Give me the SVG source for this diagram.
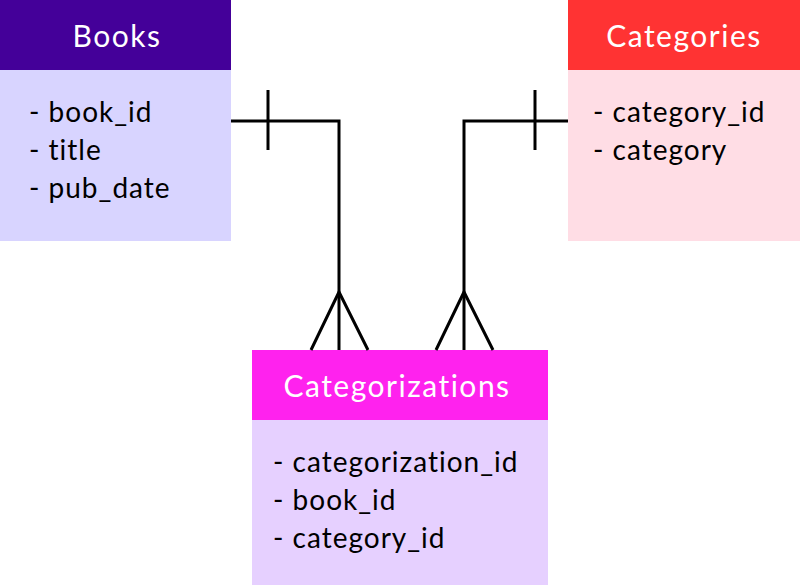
<svg xmlns="http://www.w3.org/2000/svg" width="800" height="585" viewBox="0 0 800 585">
<style>
.title{font-family:"Lato","Open Sans",sans-serif;font-size:30px;letter-spacing:1.5px;fill:#ffffff;text-anchor:middle}
.attr{font-family:"Lato","Open Sans",sans-serif;font-size:28px;letter-spacing:1px;fill:#000000}
.conn{stroke:#000000;stroke-width:3;fill:none}
</style>
<rect width="800" height="585" fill="#ffffff"/>
<g id="books">
<rect x="0" y="0" width="231" height="70" fill="#440099"/>
<rect x="0" y="70" width="231" height="171" fill="#d8d4ff"/>
<text class="title" x="117" y="47">Books</text>
<text class="attr" x="29" y="122">- book_id</text>
<text class="attr" x="29" y="160">- title</text>
<text class="attr" x="29" y="198">- pub_date</text>
</g>
<g id="categories">
<rect x="568" y="0" width="232" height="70" fill="#ff3333"/>
<rect x="568" y="70" width="232" height="171" fill="#ffdde5"/>
<text class="title" x="684" y="47">Categories</text>
<text class="attr" x="593" y="122">- category_id</text>
<text class="attr" x="593" y="160">- category</text>
</g>
<g id="categorizations">
<rect x="252" y="350" width="296" height="70" fill="#ff22ee"/>
<rect x="252" y="420" width="296" height="165" fill="#e6d0ff"/>
<text class="title" x="397" y="397">Categorizations</text>
<text class="attr" x="273" y="472">- categorization_id</text>
<text class="attr" x="273" y="510">- book_id</text>
<text class="attr" x="273" y="548">- category_id</text>
</g>
<g id="connectors">
<polyline class="conn" points="231,121 339,121 339,350"/>
<line class="conn" x1="268" y1="90" x2="268" y2="150"/>
<polyline class="conn" points="311,350 339,292 368,350"/>
<polyline class="conn" points="568,121 464,121 464,350"/>
<line class="conn" x1="535" y1="90" x2="535" y2="150"/>
<polyline class="conn" points="436,350 464,292 493,350"/>
</g>
</svg>
